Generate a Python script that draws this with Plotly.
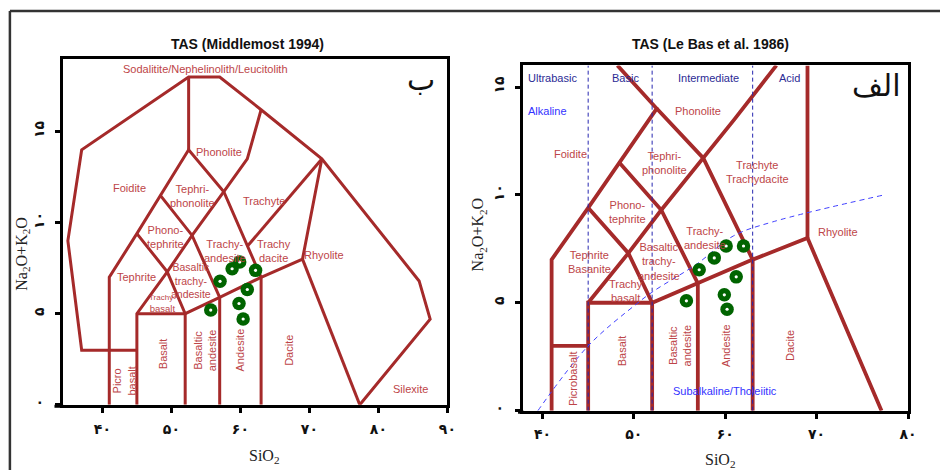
import plotly.graph_objects as go

W, H = 949, 472

# ---------------- sample compositions ----------------
mid_sio2 = [55.7, 57.05, 58.8, 59.9, 62.2, 61.0, 59.8, 60.4]
mid_alk = [5.2, 6.78, 7.47, 7.84, 7.38, 6.33, 5.56, 4.71]
lebas_sio2 = [55.75, 57.15, 58.8, 60.1, 62.0, 61.2, 59.9, 60.2]
lebas_alk = [5.09, 6.53, 7.08, 7.63, 7.63, 6.2, 5.37, 4.70]

# ---------------- field boundaries (SiO2, Na2O+K2O) ----------------
mid_lines = [
    [(45, 3), (37, 3), (35, 9), (37, 14), (52.5, 18), (57, 18), (63, 16.2),
     (71.8, 13.5), (85.9, 6.8), (87.5, 4.7), (77.3, 0)],
    [(52.5, 18), (52.5, 14)],
    [(41, 0), (41, 7), (45, 9.4), (48.4, 11.5), (52.5, 14), (57.6, 11.7), (63, 7)],
    [(45, 0), (45, 5), (49.4, 7.3), (53, 9.3), (57.6, 11.7), (61, 13.5), (63, 16.2)],
    [(45, 9.4), (49.4, 7.3), (52, 5)],
    [(48.4, 11.5), (53, 9.3), (57, 5.9)],
    [(45, 5), (52, 5), (57, 5.9), (63, 7), (69, 8), (71.8, 13.5)],
    [(52, 0), (52, 5)],
    [(57, 0), (57, 5.9)],
    [(63, 0), (63, 7)],
    [(69, 8), (77.3, 0)],
    [(71.8, 13.5), (61, 8.7)],
]

lebas_lines = [
    [(41, 0), (41, 7), (45, 9.4), (48.4, 11.5), (52.5, 14), (48.2, 16)],
    [(52.5, 14), (57.6, 11.7), (63, 7)],
    [(45, 5), (49.4, 7.3), (53, 9.3), (57.6, 11.7), (61, 13.5), (65.6, 16)],
    [(41, 3), (45, 3)],
    [(45, 0), (45, 5), (52, 5), (57, 5.9), (63, 7), (69, 8), (77.1, 0)],
    [(69, 8), (69, 16)],
    [(45, 9.4), (49.4, 7.3), (52, 5)],
    [(48.4, 11.5), (53, 9.3), (57, 5.9)],
    [(52, 0), (52, 5)],
    [(57, 0), (57, 5.9)],
    [(63, 0), (63, 7)],
]

# silica-class dividers and alkaline / subalkaline curve
silica_div = [45, 52, 63]
ib_sio2 = [39.5, 45, 50.3, 52.2, 56.9, 60.9, 65.2, 77.4]
ib_alk = [0, 3.0, 4.95, 5.55, 6.8, 8.1, 8.75, 10]

# ---------------- field labels ----------------
mid_labels = [
    ("Sodalitite/Nephelinolith/Leucitolith", 54.9, 18.45, 0, 11),
    ("Phonolite", 56.9, 13.9, 0, 11),
    ("Foidite", 44.0, 11.9, 0, 11),
    ("Tephri-<br>phonolite", 53.0, 11.45, 0, 11),
    ("Trachyte", 63.4, 11.2, 0, 11),
    ("Phono-<br>tephrite", 49.2, 9.2, 0, 11),
    ("Trachy-<br>andesite", 57.8, 8.45, 0, 11),
    ("Trachy<br>dacite", 64.9, 8.45, 0, 11),
    ("Rhyolite", 72.1, 8.2, 0, 11),
    ("Tephrite", 44.9, 7.0, 0, 11),
    ("Basaltic<br>trachy-<br>andesite", 52.8, 6.8, 0, 10.5),
    ("<span style='font-size:8px'>Trachy-</span><br>basalt", 48.7, 5.55, 0, 9.5),
    ("Picro<br>basalt", 43.2, 1.3, -90, 11),
    ("Basalt", 48.7, 2.8, -90, 11),
    ("Basaltic<br>andesite", 54.9, 3.0, -90, 11),
    ("Andesite", 60.0, 3.0, -90, 11),
    ("Dacite", 67.0, 3.0, -90, 11),
    ("Silexite", 84.7, 0.87, 0, 11),
]

lebas_labels = [
    ("Foidite", 43.1, 11.9, 0, 11),
    ("Phonolite", 57.0, 13.9, 0, 11),
    ("Tephri-<br>phonolite", 53.3, 11.5, 0, 11),
    ("Trachyte<br>Trachydacite", 63.5, 11.05, 0, 11),
    ("Phono-<br>tephrite", 49.3, 9.2, 0, 11),
    ("Trachy-<br>andesite", 57.8, 8.0, 0, 11),
    ("Rhyolite", 72.3, 8.3, 0, 11),
    ("Tephrite<br>Basanite", 45.1, 6.9, 0, 11),
    ("Basaltic<br>trachy-<br>andesite", 52.7, 6.9, 0, 11),
    ("Trachy<br>basalt", 49.1, 5.55, 0, 11),
    ("Picrobasalt", 43.4, 1.45, -90, 11),
    ("Basalt", 48.7, 2.8, -90, 11),
    ("Basaltic<br>andesite", 55.0, 3.0, -90, 11),
    ("Andesite", 60.1, 3.0, -90, 11),
    ("Dacite", 67.1, 3.0, -90, 11),
]

class_labels = [
    ("Ultrabasic", 41.1, 15.4),
    ("Basic", 49.1, 15.4),
    ("Intermediate", 58.2, 15.4),
    ("Acid", 67.0, 15.4),
]
series_labels = [
    ("Alkaline", 40.5, 13.9),
    ("Subalkaline/Tholeiitic", 60.0, 0.9),
]

# ---------------- axes ticks ----------------
mid_xticks = [40, 50, 60, 70, 80, 90]
mid_xtext = ["۴۰", "۵۰", "۶۰", "۷۰", "۸۰", "۹۰"]
lebas_xticks = [40, 50, 60, 70, 80]
lebas_xtext = ["۴۰", "۵۰", "۶۰", "۷۰", "۸۰"]
yticks = [0, 5, 10, 15]
ytext = ["۰", "۵", "۱۰", "۱۵"]

LINE = "#a52a2a"
LABEL = "#bd4548"
GREEN = "#006400"
NAVY = "#2b2b95"
BLUE = "#3333ff"
SANS = "Liberation Sans, Arial, sans-serif"
SERIF = "Liberation Serif, Times New Roman, serif"
DIGITS = "DejaVu Sans, sans-serif"


def poly_xy(lines):
    xs, ys = [], []
    for seg in lines:
        for x, y in seg:
            xs.append(x)
            ys.append(y)
        xs.append(None)
        ys.append(None)
    return xs, ys


def bold(labels):
    return ["<b>" + t + "</b>" for t in labels]


fig = go.Figure()

# Middlemost fields
mx, my = poly_xy(mid_lines)
fig.add_trace(go.Scatter(x=mx, y=my, mode="lines", xaxis="x", yaxis="y",
                         line=dict(color=LINE, width=3), hoverinfo="skip"))

# Le Bas fields
lx, ly = poly_xy(lebas_lines)
fig.add_trace(go.Scatter(x=lx, y=ly, mode="lines", xaxis="x2", yaxis="y2",
                         line=dict(color=LINE, width=3.8), hoverinfo="skip"))

# silica dividers
dx, dy = [], []
for s in silica_div:
    dx += [s, s, None]
    dy += [0, 16, None]
fig.add_trace(go.Scatter(x=dx, y=dy, mode="lines", xaxis="x2", yaxis="y2",
                         line=dict(color="#2727b0", width=1, dash="4px,3px"),
                         hoverinfo="skip"))
fig.add_trace(go.Scatter(x=ib_sio2, y=ib_alk, mode="lines", xaxis="x2", yaxis="y2",
                         line=dict(color="#4040ff", width=1, dash="5px,4px"),
                         line_shape="spline", hoverinfo="skip"))

# samples
for sx, sy, xa, ya in [(mid_sio2, mid_alk, "x", "y"), (lebas_sio2, lebas_alk, "x2", "y2")]:
    fig.add_trace(go.Scatter(x=sx, y=sy, mode="markers", xaxis=xa, yaxis=ya,
                             marker=dict(color=GREEN, size=13.5, line=dict(width=0)),
                             hoverinfo="skip"))
    fig.add_trace(go.Scatter(x=sx, y=sy, mode="markers", xaxis=xa, yaxis=ya,
                             marker=dict(color="white", size=3.2, line=dict(width=0)),
                             hoverinfo="skip"))

ann = []
for text, x, y, ang, sz in mid_labels:
    ann.append(dict(text=text, x=x, y=y, xref="x", yref="y", showarrow=False,
                    textangle=ang, font=dict(family=SANS, size=sz, color=LABEL)))
for text, x, y, ang, sz in lebas_labels:
    ann.append(dict(text=text, x=x, y=y, xref="x2", yref="y2", showarrow=False,
                    textangle=ang, font=dict(family=SANS, size=sz, color=LABEL)))
for text, x, y in class_labels:
    ann.append(dict(text=text, x=x, y=y, xref="x2", yref="y2", showarrow=False,
                    font=dict(family=SANS, size=11, color=NAVY)))
for text, x, y in series_labels:
    ann.append(dict(text=text, x=x, y=y, xref="x2", yref="y2", showarrow=False,
                    font=dict(family=SANS, size=11, color=BLUE)))


def px(x):
    return x / W


def py(y):
    return 1 - y / H


def paper_text(text, x, y, font, angle=0):
    return dict(text=text, x=px(x), y=py(y), xref="paper", yref="paper",
                xanchor="center", yanchor="middle", showarrow=False,
                textangle=angle, font=font)


# titles, letters and axis titles
ann += [
    paper_text("<b>TAS (Middlemost 1994)</b>", 250, 44, dict(family=SANS, size=14, color="#111")),
    paper_text("<b>TAS (Le Bas et al. 1986)</b>", 717, 44, dict(family=SANS, size=14, color="#111")),
    paper_text("ب", 425, 80, dict(family=DIGITS, size=30, color="#111")),
    paper_text("الف", 885, 86, dict(family=DIGITS, size=30, color="#111")),
    paper_text("Na<sub>2</sub>O+K<sub>2</sub>O", 23, 255, dict(family=SERIF, size=16, color="#222"), -90),
    paper_text("Na<sub>2</sub>O+K<sub>2</sub>O", 483, 235, dict(family=SERIF, size=16, color="#222"), -90),
    paper_text("SiO<sub>2</sub>", 267, 458, dict(family=SERIF, size=16, color="#222")),
    paper_text("SiO<sub>2</sub>", 727, 462, dict(family=SERIF, size=16, color="#222")),
]

shapes = [
    # outer frame
    dict(type="line", xref="paper", yref="paper", x0=px(10), x1=1.0, y0=py(11), y1=py(11),
         line=dict(color="#333", width=2.5)),
    dict(type="line", xref="paper", yref="paper", x0=px(10), x1=px(10), y0=py(11), y1=0,
         line=dict(color="#333", width=2.5)),
    # bottom axis stubs
    dict(type="line", xref="paper", yref="paper", x0=px(55), x1=px(64), y0=py(408), y1=py(408),
         line=dict(color="black", width=3)),
    dict(type="line", xref="paper", yref="paper", x0=px(523), x1=px(529), y0=py(414), y1=py(414),
         line=dict(color="black", width=3)),
]

axis_common = dict(showgrid=False, zeroline=False, showline=True, linecolor="black",
                   linewidth=3, mirror=True, ticks="outside", ticklen=5, tickwidth=3,
                   tickcolor="black",
                   tickfont=dict(family=DIGITS, size=14, color="#111"))

fig.update_layout(
    width=W, height=H, margin=dict(l=0, r=0, t=0, b=0),
    paper_bgcolor="white", plot_bgcolor="white", showlegend=False,
    xaxis=dict(domain=[px(63.3), px(451.7)], range=[34.25, 90], anchor="y",
               tickvals=mid_xticks, ticktext=bold(mid_xtext), ticklabelstandoff=4, **axis_common),
    yaxis=dict(domain=[py(406.5), py(59)], range=[0, 19], anchor="x",
               tickvals=yticks, ticktext=bold(ytext), tickangle=-90, ticklabelstandoff=5, **axis_common),
    xaxis2=dict(domain=[px(528.3), px(916.7)], range=[37.9, 80], anchor="y2",
                tickvals=lebas_xticks, ticktext=bold(lebas_xtext), ticklabelstandoff=4, **axis_common),
    yaxis2=dict(domain=[py(412.4), py(65.7)], range=[0, 16], anchor="x2",
                tickvals=yticks, ticktext=bold(ytext), tickangle=-90, ticklabelstandoff=6, **axis_common),
    annotations=ann,
    shapes=shapes,
)

fig.write_html("out.html")
